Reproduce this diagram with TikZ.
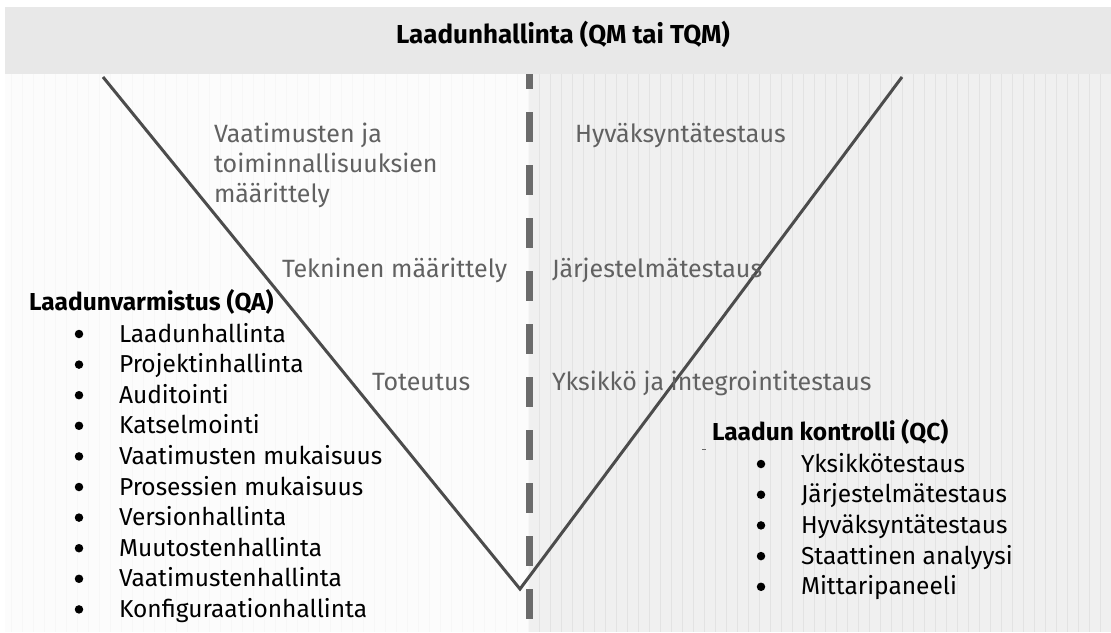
\documentclass[tikz,border=0pt]{standalone}
\usepackage{fontspec}
\setmainfont{Fira Sans}
\begin{document}
\begin{tikzpicture}[x=1pt,y=-1pt,
  every node/.style={inner sep=0pt, outer sep=0pt},
  heading/.style={font=\fontsize{24.5}{28}\selectfont\bfseries, text=black, anchor=base west},
  item/.style={font=\fontsize{24.5}{28}\selectfont, text=black, anchor=base west},
  dot/.style={circle, fill=black, minimum size=8.5pt},
  phase/.style={font=\fontsize{25}{30}\selectfont, text=black!62, anchor=base west, align=left},
  vline/.style={draw=black!70, line width=3pt, line join=miter},
  divider/.style={draw=black!58, line width=7pt, dash pattern=on 30pt off 23pt, dash phase=15pt}
]
\useasboundingbox (0,0) rectangle (1111,632);
% backgrounds
\fill[white] (0,0) rectangle (1111,632);
\fill[black!9] (5,7) rectangle (1111,74);
\fill[black!1] (5,74) rectangle (529,632);
\fill[black!6] (529,74) rectangle (1111,632);
\begin{scope}
  \clip (5,74) rectangle (529,632);
  \draw[black!3, line width=0.6pt, step=11] (0,74) grid (529,632);
\end{scope}
\begin{scope}
  \clip (529,74) rectangle (1111,632);
  \draw[black!11, line width=0.8pt, step=11] (529,74) grid (1111,632);
\end{scope}

% title
\node[font=\fontsize{26}{30}\selectfont\bfseries, anchor=base] (title) at (563,43) {Laadunhallinta (QM tai TQM)};

% centre divider
\coordinate (divtop) at (529,74);
\coordinate (divbot) at (529,632);
\draw[divider] (divtop) -- (divbot);

% the V
\coordinate (vtopL) at (103,77);
\coordinate (vbot) at (520,589);
\coordinate (vtopR) at (902,77);
\draw[vline] (vtopL) -- (vbot) -- (vtopR);

% phase labels
\node[phase] (req) at (214,142) {Vaatimusten ja};
\node[phase] (req2) at (214,172) {toiminnallisuuksien};
\node[phase] (req3) at (214,202) {määrittely};
\node[phase] (tech) at (282,277) {Tekninen määrittely};
\node[phase] (impl) at (372,390) {Toteutus};
\node[phase] (acc) at (575,142) {Hyväksyntätestaus};
\node[phase] (sys) at (552,277) {Järjestelmätestaus};
\node[phase] (unit) at (552,390) {Yksikkö ja  integrointitestaus};

% quality assurance list
\node[heading] (qa) at (29,310) {Laadunvarmistus (QA)};
\foreach \t [count=\i from 0] in {Laadunhallinta,Projektinhallinta,Auditointi,Katselmointi,Vaatimusten mukaisuus,Prosessien mukaisuus,Versionhallinta,Muutostenhallinta,Vaatimustenhallinta,Konfiguraationhallinta}{
  \node[dot] (qab\i) at (79,334+30.6*\i) {};
  \node[item] (qai\i) at (119,342+30.6*\i) {\t};
}

% quality control list
\node[heading] (qc) at (712,440) {Laadun kontrolli (QC)};
\coordinate (tickA) at (702,449);
\coordinate (tickB) at (706,449);
\draw[black!60, line width=1pt] (tickA) -- (tickB);
\foreach \t [count=\i from 0] in {Yksikkötestaus,Järjestelmätestaus,Hyväksyntätestaus,Staattinen analyysi,Mittaripaneeli}{
  \node[dot] (qcb\i) at (761,464+30.7*\i) {};
  \node[item] (qci\i) at (801,472+30.7*\i) {\t};
}
\end{tikzpicture}
\end{document}
